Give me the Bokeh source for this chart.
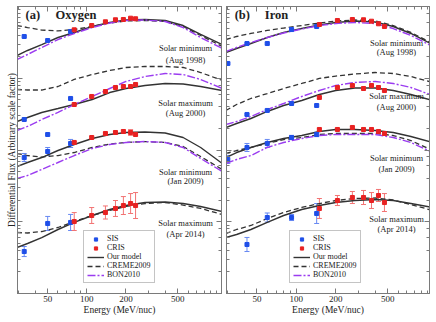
from bokeh.plotting import figure
from bokeh.models import (ColumnDataSource, Whisker, TeeHead, FixedTicker, LogAxis,
                          LogTicker, Range1d, Legend, LegendItem, Label, CustomJSTickFormatter)
from bokeh.layouts import row
from bokeh.embed import file_html
from bokeh.resources import INLINE

# ---------------- data: log10 of differential flux (arbitrary scale) ----------------
E_model = [29, 35, 45, 60, 80, 110, 150, 200, 280, 400, 550, 750, 1100]

x_major = [50, 100, 200, 500]
x_minor = [30, 40, 60, 70, 80, 90, 300, 400, 600, 700, 800, 900, 1000]

conditions = [("Solar minimum", "(Aug 1998)"), ("Solar maximum", "(Aug 2000)"),
              ("Solar minimum", "(Jan 2009)"), ("Solar maximum", "(Apr 2014)")]

# ---- Oxygen ----
o_sis_E = [33, 50, 75]
o_cris_E = [80, 109, 139, 166, 191, 217, 237]

o98_ours = [3.317, 3.387, 3.470, 3.568, 3.638, 3.721, 3.777, 3.812, 3.819, 3.805, 3.735, 3.610, 3.470]
o98_creme = [3.735, 3.707, 3.672, 3.659, 3.679, 3.721, 3.770, 3.798, 3.805, 3.791, 3.721, 3.596, 3.443]
o98_bon = [3.261, 3.331, 3.429, 3.540, 3.624, 3.707, 3.770, 3.805, 3.812, 3.791, 3.707, 3.568, 3.415]
o98_sis = [3.582, 3.526, 3.652]
o98_sis_err = [0.01, 0.01, 0.01]
o98_cris = [3.675, 3.735, 3.787, 3.815, 3.819, 3.837, 3.829]
o98_cris_err = [0.01] * 7

o00_ours = [2.397, 2.453, 2.523, 2.578, 2.634, 2.704, 2.801, 2.857, 2.899, 2.927, 2.920, 2.885, 2.829]
o00_creme = [2.843, 2.836, 2.836, 2.885, 2.983, 3.052, 3.108, 3.150, 3.164, 3.164, 3.150, 3.080, 2.969]
o00_bon = [2.272, 2.328, 2.425, 2.523, 2.634, 2.746, 2.857, 2.955, 3.024, 3.066, 3.052, 2.983, 2.857]
o00_sis = [2.425, 2.216, 2.718]
o00_sis_err = [0.01, 0.01, 0.01]
o00_cris = [2.634, 2.746, 2.815, 2.871, 2.885, 2.885, 2.913]
o00_cris_err = [0.01] * 7

o09_ours = [1.770, 1.826, 1.895, 1.993, 2.077, 2.160, 2.216, 2.244, 2.251, 2.237, 2.174, 2.035, 1.812]
o09_creme = [1.951, 1.923, 1.902, 1.923, 1.965, 2.035, 2.084, 2.105, 2.118, 2.105, 2.049, 1.909, 1.728]
o09_bon = [1.603, 1.645, 1.728, 1.826, 1.923, 2.021, 2.077, 2.105, 2.118, 2.105, 2.035, 1.882, 1.700]
o09_sis = [1.895, 1.979, 2.091]
o09_sis_err = [0.056, 0.056, 0.056]
o09_cris = [2.105, 2.174, 2.230, 2.244, 2.258, 2.244, 2.216]
o09_cris_err = [0.015, 0.015, 0.015, 0.015, 0.02, 0.04, 0.015]

o14_ours = [0.641, 0.697, 0.780, 0.892, 0.990, 1.087, 1.171, 1.226, 1.268, 1.275, 1.254, 1.213, 1.143]
o14_creme = [0.850, 0.843, 0.864, 0.920, 1.003, 1.087, 1.157, 1.213, 1.254, 1.268, 1.233, 1.185, 1.101]
o14_sis = [0.585, 0.976, 0.990]
o14_sis_err = [0.070, 0.098, 0.112]
o14_cris = [1.003, 1.087, 1.129, 1.185, 1.226, 1.254, 1.226]
o14_cris_err = [0.125, 0.111, 0.091, 0.111, 0.125, 0.139, 0.181]

# ---- Iron ----
i_cris_E = [150, 206, 268, 326, 375, 424, 471]
i98_sis_E = [30, 42, 60, 92, 143]
i00_sis_E = [42, 60, 92, 143]
i09_sis_E = [30, 42, 60, 92, 143]
i14_sis_E = [42, 60, 92, 143]

i98_ours = [3.359, 3.415, 3.484, 3.568, 3.638, 3.693, 3.742, 3.777, 3.798, 3.784, 3.721, 3.624, 3.470]
i98_creme = [3.540, 3.582, 3.624, 3.666, 3.700, 3.735, 3.770, 3.798, 3.812, 3.798, 3.735, 3.638, 3.484]
i98_bon = [3.373, 3.429, 3.498, 3.568, 3.631, 3.686, 3.735, 3.763, 3.777, 3.763, 3.693, 3.596, 3.443]
i98_sis = [3.206, 3.484, 3.484, 3.679, 3.721]
i98_sis_err = [0.01] * 5
i98_cris = [3.749, 3.805, 3.819, 3.815, 3.795, 3.759, 3.721]
i98_cris_err = [0.01] * 7

i00_ours = [2.314, 2.369, 2.439, 2.537, 2.620, 2.690, 2.774, 2.829, 2.864, 2.864, 2.829, 2.774, 2.690]
i00_creme = [2.551, 2.634, 2.718, 2.787, 2.857, 2.927, 2.997, 3.031, 3.059, 3.080, 3.066, 3.024, 2.941]
i00_bon = [2.355, 2.397, 2.467, 2.564, 2.648, 2.746, 2.829, 2.899, 2.941, 2.955, 2.927, 2.871, 2.760]
i00_sis = [2.495, 2.551, 2.648, 2.620]
i00_sis_err = [0.01] * 4
i00_cris = [2.732, 2.871, 2.899, 2.857, 2.899, 2.871, 2.829]
i00_cris_err = [0.01] * 7

i09_ours = [1.895, 1.965, 2.035, 2.105, 2.160, 2.202, 2.258, 2.286, 2.286, 2.272, 2.244, 2.188, 2.105]
i09_creme = [1.951, 1.993, 2.035, 2.091, 2.146, 2.174, 2.216, 2.230, 2.230, 2.230, 2.202, 2.132, 1.993]
i09_bon = [1.812, 1.868, 1.923, 2.035, 2.105, 2.160, 2.202, 2.216, 2.216, 2.216, 2.174, 2.105, 1.965]
i09_sis = [1.868, 2.035, 2.091, 2.174, 2.216]
i09_sis_err = [0.056, 0.056, 0.056, 0.03, 0.03]
i09_cris = [2.286, 2.286, 2.314, 2.286, 2.286, 2.258, 2.230]
i09_cris_err = [0.015] * 7

i14_ours = [0.780, 0.822, 0.892, 0.990, 1.087, 1.171, 1.226, 1.268, 1.296, 1.310, 1.296, 1.254, 1.199]
i14_creme = [0.836, 0.892, 0.948, 1.045, 1.129, 1.199, 1.254, 1.296, 1.324, 1.331, 1.303, 1.240, 1.157]
i14_sis = [0.683, 1.059, 1.059, 1.115]
i14_sis_err = [0.098, 0.063, 0.042, 0.139]
i14_cris = [1.185, 1.296, 1.338, 1.338, 1.296, 1.366, 1.268]
i14_cris_err = [0.139, 0.070, 0.084, 0.098, 0.111, 0.084, 0.125]

# ---------------- styling ----------------
FONT = "Liberation Serif"
AX = "#7a7a7a"
TXT = "#222222"
C_OURS = "#333333"
C_BON = "#9b3cf0"
C_SIS = "#1f4fe8"
C_SIS_ERR = "#6688f2"
C_CRIS = "#e82222"
C_CRIS_ERR = "#f27373"


def flux(v):
    return [10 ** a for a in v]


def group(ours, creme, bon, sisE, sis, sis_err, crisE, cris, cris_err):
    return dict(ours=ours, creme=creme, bon=bon, sisE=sisE, sis=sis, sis_err=sis_err,
                crisE=crisE, cris=cris, cris_err=cris_err)


oxygen = [
    group(o98_ours, o98_creme, o98_bon, o_sis_E, o98_sis, o98_sis_err, o_cris_E, o98_cris, o98_cris_err),
    group(o00_ours, o00_creme, o00_bon, o_sis_E, o00_sis, o00_sis_err, o_cris_E, o00_cris, o00_cris_err),
    group(o09_ours, o09_creme, o09_bon, o_sis_E, o09_sis, o09_sis_err, o_cris_E, o09_cris, o09_cris_err),
    group(o14_ours, o14_creme, None, o_sis_E, o14_sis, o14_sis_err, o_cris_E, o14_cris, o14_cris_err),
]
iron = [
    group(i98_ours, i98_creme, i98_bon, i98_sis_E, i98_sis, i98_sis_err, i_cris_E, i98_cris, i98_cris_err),
    group(i00_ours, i00_creme, i00_bon, i00_sis_E, i00_sis, i00_sis_err, i_cris_E, i00_cris, i00_cris_err),
    group(i09_ours, i09_creme, i09_bon, i09_sis_E, i09_sis, i09_sis_err, i_cris_E, i09_cris, i09_cris_err),
    group(i14_ours, i14_creme, None, i14_sis_E, i14_sis, i14_sis_err, i_cris_E, i14_cris, i14_cris_err),
]

# label placement (style/position, not data)
lab_a = dict(x=574, y1=[3.415, 2.662, 1.700, 0.976], y2=[3.261, 2.509, 1.561, 0.836])
lab_b = dict(x=582, y1=[3.498, 2.746, 1.895, 1.045], y2=[3.359, 2.606, 1.742, 0.892])


def style_axis(ax, labels):
    ax.axis_line_color = AX
    ax.major_tick_line_color = AX
    ax.minor_tick_line_color = AX
    ax.major_tick_in = 5
    ax.major_tick_out = 0
    ax.minor_tick_in = 3
    ax.minor_tick_out = 0
    if labels:
        ax.major_label_text_font = FONT
        ax.major_label_text_font_size = "9px"
        ax.major_label_text_color = TXT
        ax.major_label_standoff = 2
    else:
        ax.formatter = CustomJSTickFormatter(code="return '';")
        ax.major_label_text_font_size = "1px"
        ax.major_label_standoff = 0


def panel(groups, tag, name, xr, lab, width, mbl, mbr, ylabel, leg_loc):
    p = figure(width=width, height=322, x_axis_type="log", y_axis_type="log",
               x_range=Range1d(*xr), y_range=Range1d(1, 1e4),
               output_backend="svg", toolbar_location=None,
               min_border_left=mbl, min_border_right=mbr, min_border_top=6, min_border_bottom=29)
    p.grid.visible = False
    p.outline_line_color = AX
    p.background_fill_color = "white"

    p.xaxis.ticker = FixedTicker(ticks=x_major, minor_ticks=x_minor)
    style_axis(p.xaxis[0], True)
    p.xaxis.axis_label = "Energy (MeV/nuc)"
    p.xaxis.axis_label_text_font = FONT
    p.xaxis.axis_label_text_font_size = "9.5px"
    p.xaxis.axis_label_text_font_style = "normal"
    p.xaxis.axis_label_text_color = TXT
    p.xaxis.axis_label_standoff = 0

    style_axis(p.yaxis[0], False)
    if ylabel:
        p.yaxis.axis_label = ylabel
        p.yaxis.axis_label_text_font = FONT
        p.yaxis.axis_label_text_font_size = "9.5px"
        p.yaxis.axis_label_text_font_style = "normal"
        p.yaxis.axis_label_text_color = TXT
        p.yaxis.axis_label_standoff = 1

    top = LogAxis(ticker=FixedTicker(ticks=x_major, minor_ticks=x_minor))
    style_axis(top, False)
    p.add_layout(top, "above")
    right = LogAxis(ticker=LogTicker())
    style_axis(right, False)
    p.add_layout(right, "right")

    leg = {}
    for g in groups:
        r1 = p.line(E_model, flux(g["ours"]), line_color=C_OURS, line_width=1.4)
        r2 = p.line(E_model, flux(g["creme"]), line_color=C_OURS, line_width=1.3, line_dash="5 3")
        leg.setdefault("ours", r1)
        leg.setdefault("creme", r2)
        if g["bon"] is not None:
            r3 = p.line(E_model, flux(g["bon"]), line_color=C_BON, line_width=1.4, line_dash="8 2 2 2")
            leg.setdefault("bon", r3)
        for key, ekey, Ekey, col, ecol, nm in (("sis", "sis_err", "sisE", C_SIS, C_SIS_ERR, "sis"),
                                               ("cris", "cris_err", "crisE", C_CRIS, C_CRIS_ERR, "cris")):
            vals, errs = g[key], g[ekey]
            src = ColumnDataSource(dict(x=g[Ekey], y=flux(vals),
                                        lo=[10 ** (v - e) for v, e in zip(vals, errs)],
                                        hi=[10 ** (v + e) for v, e in zip(vals, errs)]))
            w = Whisker(source=src, base="x", upper="hi", lower="lo", dimension="height",
                        line_color=ecol, line_width=1,
                        upper_head=TeeHead(size=5, line_color=ecol, line_width=1),
                        lower_head=TeeHead(size=5, line_color=ecol, line_width=1))
            p.add_layout(w)
            r = p.scatter("x", "y", source=src, marker="square", size=4,
                          fill_color=col, line_color=col)
            leg.setdefault(nm, r)

    for i, (t1, t2) in enumerate(conditions):
        p.add_layout(Label(x=lab["x"], y=10 ** lab["y1"][i], text=t1, text_font=FONT,
                           text_font_size="8.5px", text_align="center", text_baseline="middle",
                           text_color=TXT))
        p.add_layout(Label(x=lab["x"], y=10 ** lab["y2"][i], text=t2, text_font=FONT,
                           text_font_size="8.5px", text_align="center", text_baseline="middle",
                           text_color=TXT))

    p.add_layout(Label(x=33.8, y=10 ** 3.875, text=tag, text_font=FONT, text_font_size="12.5px",
                       text_font_style="bold", text_baseline="middle", text_color=TXT))
    p.add_layout(Label(x=57.5, y=10 ** 3.875, text=name, text_font=FONT, text_font_size="12.5px",
                       text_font_style="bold", text_baseline="middle", text_color=TXT))

    legend = Legend(items=[LegendItem(label="SIS", renderers=[leg["sis"]]),
                           LegendItem(label="CRIS", renderers=[leg["cris"]]),
                           LegendItem(label="Our model", renderers=[leg["ours"]]),
                           LegendItem(label="CREME2009", renderers=[leg["creme"]]),
                           LegendItem(label="BON2010", renderers=[leg["bon"]])],
                    location=leg_loc)
    legend.label_text_font = FONT
    legend.label_text_font_size = "8px"
    legend.label_text_color = TXT
    legend.label_height = 8
    legend.glyph_height = 8
    legend.glyph_width = 17
    legend.label_standoff = 3
    legend.spacing = 0
    legend.padding = 3
    legend.margin = 0
    legend.border_line_color = "#8a8a8a"
    legend.border_line_width = 1
    legend.background_fill_alpha = 1
    p.add_layout(legend, "center")
    return p


pa = panel(oxygen, "(a)", "Oxygen", (29.3, 1085), lab_a, 223, 17, 2,
           "Differential Flux (Arbitrary scale factor)", (66, 10))
pb = panel(iron, "(b)", "Iron", (29.3, 1040), lab_b, 209, 3, 3, None, (63, 10))

layout = row(pa, pb)
open("out.html", "w").write(file_html(layout, INLINE))
